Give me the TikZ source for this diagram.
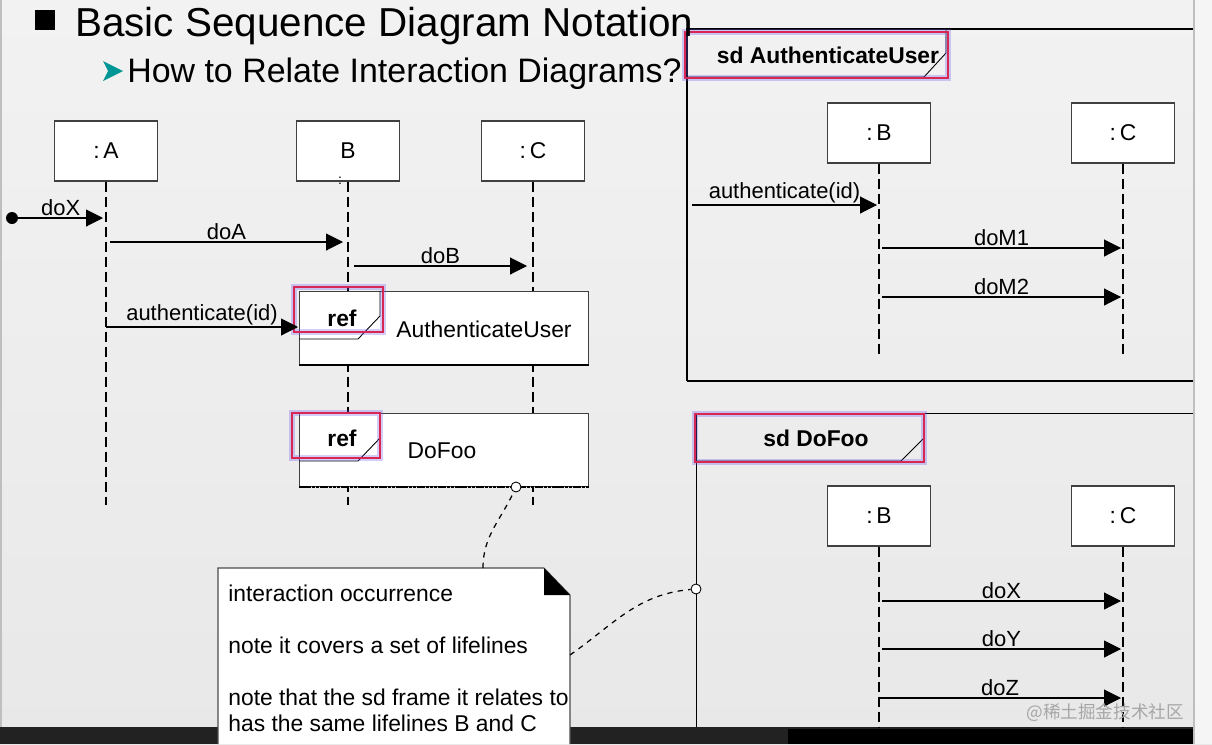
\documentclass[tikz,border=0pt]{standalone}
\usepackage{fontspec}
\setmainfont{Liberation Sans}
\newfontfamily\cjkfont{Noto Sans CJK SC}
\usetikzlibrary{arrows.meta}
\definecolor{slidetop}{RGB}{242,242,242}
\definecolor{slidebot}{RGB}{232,232,232}
\definecolor{hlred}{RGB}{215,40,85}
\definecolor{hlblue}{RGB}{110,90,235}
\definecolor{bulletcol}{RGB}{0,150,150}
\definecolor{barcol}{RGB}{34,34,34}

\begin{document}
\begin{tikzpicture}[x=0.02cm,y=-0.02cm,
>={Triangle[length=0.34cm,width=0.34cm]},
every node/.style={font=\fontsize{12.5}{15}\selectfont},
lifebox/.style={draw=black!75,line width=0.8pt,fill=white,minimum width=2.06cm,minimum height=1.2cm,inner sep=0pt,font=\fontsize{13}{15}\selectfont},
lifeline/.style={dash pattern=on 0.2cm off 0.1cm,line width=0.8pt},
msg/.style={->,line width=0.6pt},
msglbl/.style={above,inner sep=1pt},
refbox/.style={draw=black!75,line width=0.7pt,fill=white,minimum width=5.78cm,minimum height=1.46cm,inner sep=0pt,anchor=north west},
tagtxt/.style={font=\bfseries\fontsize{13}{15}\selectfont},
tagline/.style={line width=0.5pt},
bigtxt/.style={font=\fontsize{13}{15}\selectfont},
hl/.style={draw=hlred,line width=1.1pt,preaction={draw=hlblue,opacity=0.3,line width=3pt}},
mydot/.style={circle,fill,inner sep=0pt,minimum size=0.24cm},
opendot/.style={circle,draw,fill=white,inner sep=0pt,minimum size=0.2cm,line width=0.5pt},
notetxt/.style={anchor=base west,inner sep=0pt,font=\fontsize{13}{15}\selectfont}]

\useasboundingbox (0,0) rectangle (1212,744);
\shade[top color=slidetop,bottom color=slidebot] (0,0) rectangle (1212,744);
\draw[black!25,line width=1.5pt] (1,0) -- (1,727);

% bottom bar and right edge
\fill[barcol] (0,727) rectangle (1193,744);
\fill[black] (788,729) rectangle (1193,744);
\fill[black!4] (1193,0) rectangle (1212,744);
\draw[black!25,line width=1pt] (1194,0) -- (1194,744);

% left diagram
\node[lifebox] (A) at (106,151) {:\,A};
\node[lifebox] (B) at (348,151) {B};
\node[lifebox] (C) at (533,151) {:\,C};
\node[font=\fontsize{8}{8}\selectfont] (Bcol) at (340,181) {:};
\coordinate (Aend) at (106,505);
\coordinate (Bend) at (348,505);
\coordinate (Cend) at (533,505);
\draw[lifeline] (A) -- (Aend);
\draw[lifeline] (B) -- (Bend);
\draw[lifeline] (C) -- (Cend);

\node[mydot] (start) at (12,218) {};
\coordinate (x1) at (103,218);
\draw[msg] (start) -- node[msglbl] {doX} (x1);
\coordinate (a0) at (110,242);
\coordinate (a1) at (343,242);
\draw[msg] (a0) -- node[msglbl] {doA} (a1);
\coordinate (b0) at (354,266);
\coordinate (b1) at (527,266);
\draw[msg] (b0) -- node[msglbl] {doB} (b1);

\node[refbox] (ref1) at (299,291) {};
\draw[line width=1.4pt] (ref1.south west) -- (ref1.south east);
\draw[tagline] (299,339) -- (358,339) -- (380,316) -- (380,291);
\node[tagtxt] (reftag1) at (342,318) {ref};
\node[bigtxt] (ref1txt) at (484,329) {AuthenticateUser};
\draw[hl] (294,287) rectangle (383,332);

\coordinate (u0) at (106,327);
\coordinate (u1) at (298,327);
\draw[msg] (u0) -- node[msglbl] {authenticate(id)} (u1);

\node[refbox] (ref2) at (299,413) {};
\draw[line width=1.3pt,dash pattern=on 2pt off 0.4pt] (ref2.south west) -- (ref2.south east);
\draw[tagline] (299,461) -- (358,461) -- (380,438) -- (380,413);
\node[tagtxt] (reftag2) at (342,438) {ref};
\node[bigtxt] (ref2txt) at (442,451) {DoFoo};
\draw[hl] (292,413) rectangle (380,458);
\node[opendot] (c1) at (516,487) {};

% sd AuthenticateUser
\draw[line width=0.6pt] (687,381) -- (687,29) -- (1193,29);
\draw[line width=1.4pt] (687,381) -- (1193,381);
\draw[tagline] (687,77) -- (924,77) -- (946,53) -- (946,29);
\node[tagtxt] (sd1) at (828,55) {sd AuthenticateUser};
\draw[hl] (685,32) rectangle (948,78);

\node[lifebox] (B1) at (879,133) {:\,B};
\node[lifebox] (C1) at (1123,133) {:\,C};
\coordinate (B1end) at (879,358);
\coordinate (C1end) at (1123,358);
\draw[lifeline] (B1) -- (B1end);
\draw[lifeline] (C1) -- (C1end);
\coordinate (p0) at (692,205);
\coordinate (p1) at (877,205);
\draw[msg] (p0) -- node[msglbl] {authenticate(id)} (p1);
\coordinate (q0) at (882,248);
\coordinate (q1) at (1121,248);
\draw[msg] (q0) -- node[msglbl] {doM1} (q1);
\coordinate (r0) at (882,297);
\coordinate (r1) at (1121,297);
\draw[msg] (r0) -- node[msglbl] {doM2} (r1);

% sd DoFoo
\draw[line width=0.5pt] (696,727) -- (696,413) -- (1193,413);
\draw[tagline] (696,461) -- (901,461) -- (924,438) -- (924,413);
\node[tagtxt] (sd2) at (816,438) {sd DoFoo};
\draw[hl] (695,414) rectangle (924,462);

\node[lifebox] (B2) at (879,516) {:\,B};
\node[lifebox] (C2) at (1123,516) {:\,C};
\coordinate (B2end) at (879,727);
\coordinate (C2end) at (1123,727);
\draw[lifeline] (B2) -- (B2end);
\draw[lifeline] (C2) -- (C2end);
\coordinate (s0) at (882,601);
\coordinate (s1) at (1121,601);
\draw[msg] (s0) -- node[msglbl] {doX} (s1);
\coordinate (t0) at (882,649);
\coordinate (t1) at (1121,649);
\draw[msg] (t0) -- node[msglbl] {doY} (t1);
\coordinate (v0) at (879,698);
\coordinate (v1) at (1121,698);
\draw[msg] (v0) -- node[msglbl] {doZ} (v1);
\node[opendot] (c2) at (696,589) {};

\node[font=\cjkfont\fontsize{10}{12}\selectfont,text=black!35,anchor=base east] (wm) at (1190,718) {@稀土掘金技术社区};

% note
\draw[draw=black!70,fill=white,line width=0.6pt] (218,744) -- (218,568) -- (544,568) -- (570,595) -- (570,744);
\fill (544,568) -- (570,595) -- (544,595) -- cycle;
\node[notetxt] (nt1) at (228,601) {interaction occurrence};
\node[notetxt] (nt2) at (228,653) {note it covers a set of lifelines};
\node[notetxt] (nt3) at (228,705) {note that the sd frame it relates to};
\node[notetxt] (nt4) at (228,731) {has the same lifelines B and C};
\coordinate (n1) at (483,568);
\coordinate (n2) at (570,655);
\draw[dashed,line width=0.7pt] (n1) to[out=90,in=245] (c1);
\draw[dashed,line width=0.7pt] (n2) to[out=35,in=185] (c2);

% title
\fill (35,10) rectangle (55,30);
\node[anchor=base west,inner sep=0pt,font=\fontsize{23}{26}\selectfont] (ttl) at (75,36) {Basic Sequence Diagram Notation};
\fill[bulletcol] (103,61) -- (123,71) -- (103,81) -- (108,71) -- cycle;
\node[anchor=base west,inner sep=0pt,font=\fontsize{19.3}{22}\selectfont] (sub) at (127,82) {How to Relate Interaction Diagrams?};
\end{tikzpicture}
\end{document}
